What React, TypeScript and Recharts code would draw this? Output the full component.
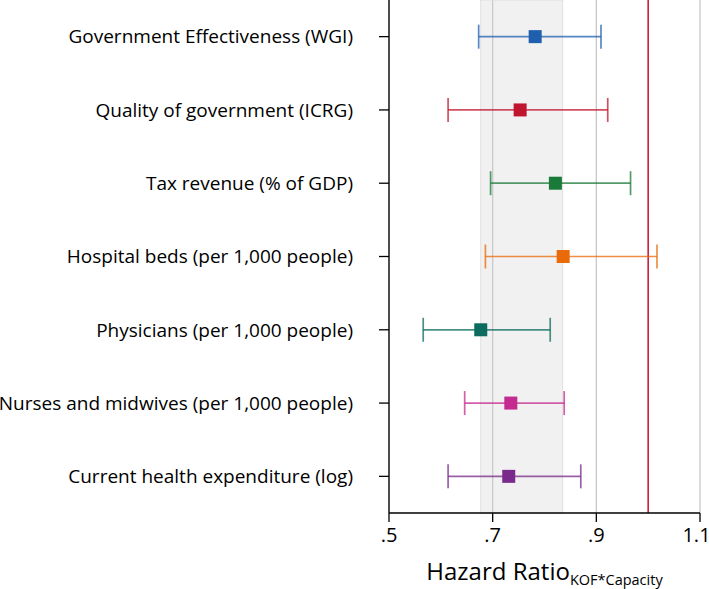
import React from 'react'
import {
  ScatterChart, Scatter, XAxis, YAxis, CartesianGrid,
  ReferenceLine, ReferenceArea, ErrorBar,
} from 'recharts'

const LABELS = [
  'Government Effectiveness (WGI)',
  'Quality of government (ICRG)',
  'Tax revenue (% of GDP)',
  'Hospital beds (per 1,000 people)',
  'Physicians (per 1,000 people)',
  'Nurses and midwives (per 1,000 people)',
  'Current health expenditure (log)',
]
const ESTIMATES = [0.782, 0.753, 0.821, 0.836, 0.677, 0.735, 0.731]
const LOWER = [0.673, 0.614, 0.696, 0.686, 0.566, 0.646, 0.614]
const UPPER = [0.909, 0.922, 0.966, 1.017, 0.811, 0.838, 0.870]
const COLORS = ['#1f5fae', '#c0152f', '#1a7a3a', '#ea6a0a', '#0b6b5e', '#c42a8f', '#7a2a8a']
const X_TICKS = [0.5, 0.7, 0.9, 1.1]
const SHADE = [0.677, 0.835]

const FONT = '"Open Sans", Lato, sans-serif'

function fmtTick(v: number) {
  const s = String(v)
  return s.startsWith('0') ? s.slice(1) : s
}

function Square(props: any) {
  const { cx, cy, fill } = props
  if (cx == null || cy == null) return null
  return <rect x={cx - 6.5} y={cy - 6.5} width={13} height={13} fill={fill} />
}

function AxisTitle(props: any) {
  const vb = props.viewBox || {}
  const cx = vb.x + vb.width / 2
  return (
    <text x={cx} y={vb.y + 67} textAnchor="middle" fill="#000" fontFamily={FONT}>
      <tspan fontSize={24}>Hazard Ratio</tspan>
      <tspan fontSize={14.5} dy={5}>KOF*Capacity</tspan>
    </text>
  )
}

export default function App() {
  const rows = LABELS.map((name, i) => ({
    name,
    y: i,
    x: ESTIMATES[i],
    err: [ESTIMATES[i] - LOWER[i], UPPER[i] - ESTIMATES[i]],
  }))

  return (
    <div style={{ position: 'absolute', left: 0, top: 0, width: 709, height: 589, overflow: 'hidden', background: '#fff' }}>
      <style>{'body{margin:0}'}</style>
      <ScatterChart width={709} height={589} margin={{ top: 0, right: 9, bottom: 0, left: 0 }}>
        <CartesianGrid horizontal={false} stroke="#c8c8c8" strokeWidth={1.3} />
        <ReferenceArea x1={SHADE[0]} x2={SHADE[1]} fill="#d0d0d0" fillOpacity={0.3}
                       stroke="#e0e0e0" strokeWidth={1} />
        <ReferenceLine x={1} stroke="#c8102e" strokeWidth={1.5} />
        <XAxis type="number" dataKey="x" domain={[0.5, 1.1]} ticks={X_TICKS}
               allowDataOverflow tickFormatter={fmtTick} height={76}
               axisLine={{ stroke: '#000', strokeWidth: 1.3 }}
               tickLine={{ stroke: '#000', strokeWidth: 1.3 }} tickSize={9} tickMargin={6}
               tick={{ fontSize: 20, fill: '#000', fontFamily: FONT }}
               label={{ content: <AxisTitle /> }} />
        <YAxis type="number" dataKey="y" domain={[-0.5, 6.5]} reversed
               ticks={[0, 1, 2, 3, 4, 5, 6]} tickFormatter={(v: number) => LABELS[v]}
               width={389} interval={0}
               axisLine={{ stroke: '#000', strokeWidth: 1.3 }}
               tickLine={{ stroke: '#000', strokeWidth: 1.3 }} tickSize={10} tickMargin={26}
               tick={{ fontSize: 19, fill: '#000', fontFamily: FONT }} />
        {rows.map((r, i) => (
          <Scatter key={r.name} data={[r]} fill={COLORS[i]} shape={<Square />}
                   isAnimationActive={false}>
            <ErrorBar dataKey="err" direction="x" width={12} stroke={COLORS[i]}
                      strokeOpacity={0.75} strokeWidth={1.7} />
          </Scatter>
        ))}
      </ScatterChart>
    </div>
  )
}
